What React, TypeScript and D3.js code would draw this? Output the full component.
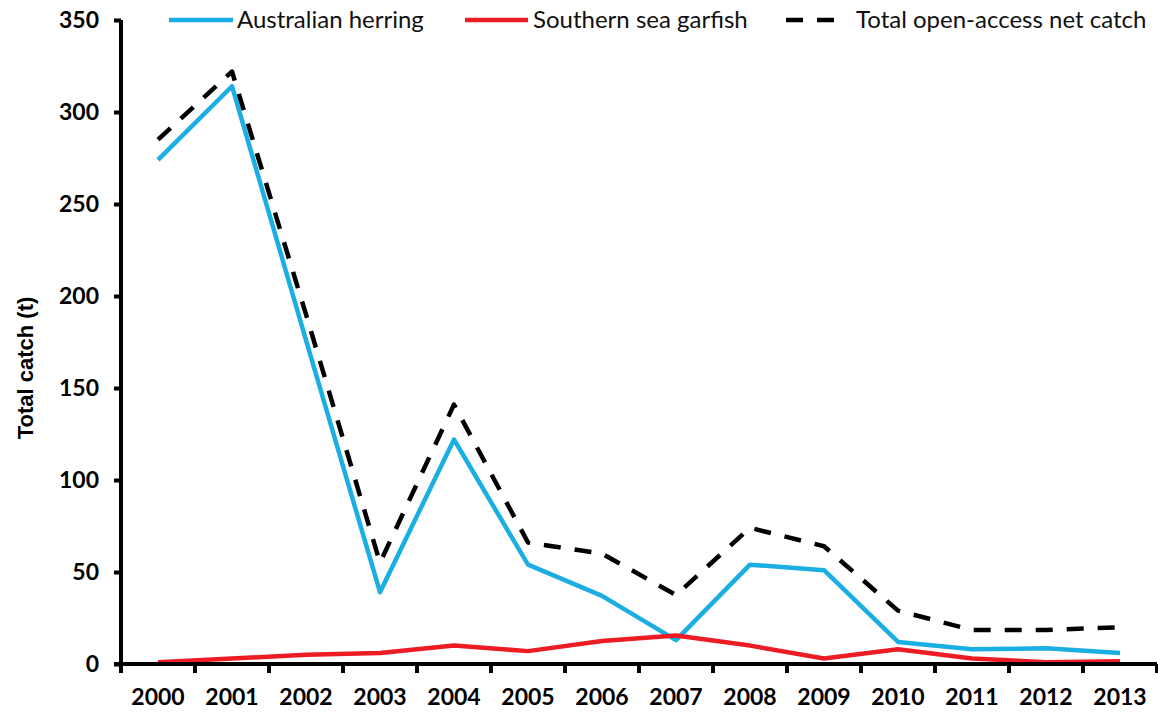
import React, { useEffect, useRef } from 'react';
import * as d3 from 'd3';

const years = ['2000', '2001', '2002', '2003', '2004', '2005', '2006', '2007', '2008', '2009', '2010', '2011', '2012', '2013'];
const herring = [274, 314, 176, 39, 122, 54, 37, 13, 54, 51, 12, 8, 8.5, 6];
const garfish = [1, 3, 5, 6, 10, 7, 12.5, 15.5, 10, 3, 8, 3, 1, 1.5];
const total = [285, 322, 190, 55, 141, 66, 60, 37.5, 74, 64, 29, 18.5, 18.5, 20];
const yTicks = [0, 50, 100, 150, 200, 250, 300, 350];

const series = [
  { name: 'Australian herring', values: herring, color: '#1BAEE3', dash: null },
  { name: 'Southern sea garfish', values: garfish, color: '#ED1C24', dash: null },
  { name: 'Total open-access net catch', values: total, color: '#000000', dash: '17,14' },
];

export default function App() {
  const ref = useRef<SVGSVGElement>(null);

  useEffect(() => {
    const W = 1158, H = 713;
    const left = 121, right = 1157, top = 20, bottom = 664;
    const svg = d3.select(ref.current).attr('width', W).attr('height', H);
    svg.selectAll('*').remove();

    const x = d3.scaleBand().domain(years).range([left, right]);
    const y = d3.scaleLinear().domain([0, 350]).range([bottom, top]);

    const line = d3.line<number>()
      .x((d, i) => (x(years[i]) as number) + x.bandwidth() / 2)
      .y(d => y(d));

    // the three series
    series.forEach(s => {
      svg.append('path')
        .attr('d', line(s.values))
        .attr('fill', 'none')
        .attr('stroke', s.color)
        .attr('stroke-width', 4.5)
        .attr('stroke-linejoin', 'round')
        .attr('stroke-dasharray', s.dash);
    });

    // y axis
    const yAxis = svg.append('g')
      .attr('transform', `translate(${left},0)`)
      .call(d3.axisLeft(y).tickValues(yTicks).tickSize(7).tickPadding(15).tickSizeOuter(0));
    yAxis.select('.domain').attr('stroke-width', 4).attr('d', `M0,${bottom}V${top}`);
    yAxis.selectAll('.tick line').attr('stroke-width', 4);
    yAxis.selectAll('text')
      .style('font-family', 'Lato')
      .style('font-weight', 'bold')
      .style('font-size', '23px')
      .attr('fill', '#000');

    // x axis
    const xAxis = svg.append('g')
      .attr('transform', `translate(0,${bottom})`)
      .call(d3.axisBottom(x).tickSize(0).tickPadding(25));
    xAxis.select('.domain').attr('stroke-width', 4).attr('d', `M${left - 7},0H${right}`);
    xAxis.selectAll('text')
      .style('font-family', 'Lato')
      .style('font-weight', 'bold')
      .style('font-size', '23px')
      .attr('fill', '#000');

    // ticks between categories
    const bounds = years.map(d => x(d) as number).concat([right]);
    svg.append('g').selectAll('line').data(bounds).join('line')
      .attr('x1', d => d).attr('x2', d => d)
      .attr('y1', bottom).attr('y2', bottom + 9)
      .attr('stroke', '#000').attr('stroke-width', 4);

    // y label
    svg.append('text')
      .attr('transform', `translate(33,368) rotate(-90)`)
      .attr('text-anchor', 'middle')
      .style('font-family', '"Liberation Sans", Arial, sans-serif')
      .style('font-weight', 'bold')
      .style('font-size', '22px')
      .text('Total catch (t)');

    // legend
    const legendPos = [
      { x1: 169, x2: 233, tx: 237 },
      { x1: 465, x2: 528, tx: 533 },
      { x1: 786, x2: 840, tx: 856 },
    ];
    series.forEach((s, i) => {
      const p = legendPos[i];
      svg.append('line')
        .attr('x1', p.x1).attr('x2', p.x2)
        .attr('y1', 20).attr('y2', 20)
        .attr('stroke', s.color)
        .attr('stroke-width', 4.5)
        .attr('stroke-dasharray', s.dash);
      svg.append('text')
        .attr('x', p.tx).attr('y', 28)
        .style('font-family', 'Lato')
        .style('font-size', '24px')
        .attr('fill', '#111')
        .text(s.name);
    });
  }, []);

  return (
    <svg ref={ref} style={{ position: 'absolute', left: 0, top: 0, background: '#fff' }}></svg>
  );
}
